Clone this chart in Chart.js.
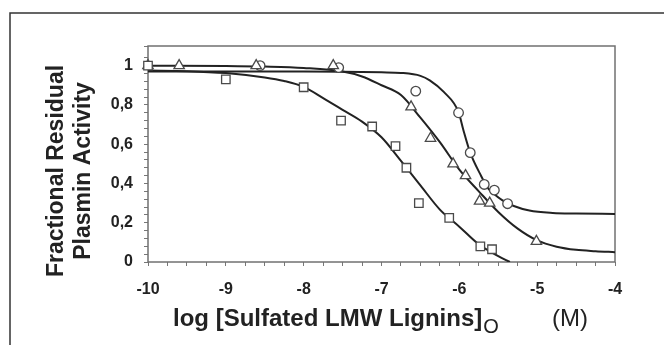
<!DOCTYPE html>
<html>
<head>
<meta charset="utf-8">
<script src="https://cdn.jsdelivr.net/npm/chart.js@4/dist/chart.umd.min.js"></script>
<style>
  html, body { margin: 0; padding: 0; background: #fff; }
  canvas { display: block; }
</style>
</head>
<body>
<canvas id="chart" width="664" height="345"></canvas>
<script>
// ---------------- DATA ----------------
// measured points (log M, fractional activity)
const squareX = [-10, -9, -8, -7.52, -7.12, -6.82, -6.68, -6.52, -6.13, -5.73, -5.58];
const squareY = [1.0, 0.93, 0.89, 0.72, 0.69, 0.59, 0.48, 0.30, 0.225, 0.08, 0.065];

const triangleX = [-10, -9.6, -8.61, -7.62, -6.62, -6.37, -6.08, -5.92, -5.74, -5.61, -5.01];
const triangleY = [1.0, 1.0, 1.0, 1.0, 0.79, 0.63, 0.50, 0.44, 0.31, 0.30, 0.105];

const circleX = [-8.56, -7.55, -6.56, -6.01, -5.86, -5.68, -5.55, -5.38];
const circleY = [1.0, 0.99, 0.87, 0.76, 0.557, 0.395, 0.366, 0.297];

// fitted curves
const squareFitX = [-10, -9.5, -9, -8.5, -8.25, -8, -7.75, -7.5, -7.25, -7, -6.75, -6.5, -6.25, -6, -5.75, -5.5, -5.35];
const squareFitY = [0.975, 0.972, 0.962, 0.94, 0.922, 0.892, 0.835, 0.775, 0.715, 0.635, 0.515, 0.39, 0.267, 0.18, 0.09, 0.03, 0.0];

const triangleFitX = [-10, -9, -8.5, -8, -7.5, -7.25, -7, -6.75, -6.5, -6.25, -6, -5.75, -5.5, -5.25, -5, -4.75, -4.5, -4.25, -4];
const triangleFitY = [1.0, 0.998, 0.995, 0.988, 0.97, 0.945, 0.90, 0.85, 0.735, 0.61, 0.47, 0.36, 0.255, 0.17, 0.11, 0.078, 0.062, 0.055, 0.05];

const circleFitX = [-10, -9, -8, -7.5, -7, -6.75, -6.5, -6.38, -6.2, -6.01, -5.95, -5.86, -5.73, -5.63, -5.55, -5.45, -5.3, -5.1, -4.8, -4.5, -4];
const circleFitY = [0.97, 0.97, 0.97, 0.969, 0.966, 0.963, 0.948, 0.925, 0.866, 0.763, 0.675, 0.557, 0.446, 0.375, 0.345, 0.315, 0.285, 0.262, 0.25, 0.247, 0.245];

// axis ranges
const xMin = -10, xMax = -4, xStep = 0.25;
const yMin = 0, yMax = 1.1, yStep = 0.04;

// ---------------- HELPERS ----------------
function pairs(xs, ys) {
  return xs.map((x, i) => ({ x: x, y: ys[i] }));
}

const FONT = "'Liberation Sans', Arial, sans-serif";
const INK = "#222";

function pointSet(xs, ys, style, r) {
  return {
    data: pairs(xs, ys),
    showLine: false,
    pointStyle: style,
    pointRadius: r,
    pointBackgroundColor: "#fff",
    pointBorderColor: "#4a4a4a",
    pointBorderWidth: 1.3,
    clip: false,
    order: 0
  };
}

function lineSet(xs, ys) {
  return {
    data: pairs(xs, ys),
    showLine: true,
    borderColor: INK,
    borderWidth: 2,
    pointRadius: 0,
    cubicInterpolationMode: "monotone",
    fill: false,
    order: 1
  };
}

// ---------------- FRAME + TITLES ----------------
const decor = {
  id: "decor",
  beforeDatasetsDraw(chart) {
    const c = chart.ctx, a = chart.chartArea;
    c.save();
    // outer panel border (top and left only visible)
    c.strokeStyle = "#333";
    c.lineWidth = 1.5;
    c.beginPath();
    c.moveTo(10, 350);
    c.lineTo(10, 13);
    c.lineTo(670, 13);
    c.stroke();
    // plot box
    c.strokeStyle = "#707070";
    c.lineWidth = 1.5;
    c.strokeRect(a.left, a.top, a.right - a.left, a.bottom - a.top);

    // y title, two rotated lines
    c.fillStyle = INK;
    c.textAlign = "center";
    c.textBaseline = "alphabetic";
    c.font = "bold 23px " + FONT;
    const yc = (a.top + a.bottom) / 2 + 17;
    c.save();
    c.translate(63, yc);
    c.rotate(-Math.PI / 2);
    c.fillText("Fractional Residual", 0, 0);
    c.restore();
    c.save();
    c.translate(90, yc);
    c.rotate(-Math.PI / 2);
    c.fillText("Plasmin Activity", 0, 0);
    c.restore();

    // x title with subscript
    c.textAlign = "left";
    c.font = "bold 24px " + FONT;
    const main = "log [Sulfated LMW Lignins]";
    c.fillText(main, 173, 326);
    const w = c.measureText(main).width;
    c.font = "20px " + FONT;
    c.fillText("O", 173 + w + 1, 333);
    c.textAlign = "center";
    c.font = "24px " + FONT;
    c.fillText("(M)", 570, 326);
    c.restore();
  }
};

// ---------------- CHART ----------------
const ctx = document.getElementById("chart").getContext("2d");

const chart = new Chart(ctx, {
  type: "scatter",
  data: {
    datasets: [
      pointSet(squareX, squareY, "rect", 6),
      pointSet(triangleX, triangleY, "triangle", 6),
      pointSet(circleX, circleY, "circle", 4.8),
      lineSet(squareFitX, squareFitY),
      lineSet(triangleFitX, triangleFitY),
      lineSet(circleFitX, circleFitY)
    ]
  },
  options: {
    responsive: false,
    animation: false,
    layout: { padding: { left: 0, top: 46, right: 49, bottom: 0 } },
    plugins: {
      legend: { display: false },
      tooltip: { enabled: false }
    },
    scales: {
      x: {
        type: "linear",
        min: xMin,
        max: xMax,
        afterFit(scale) { scale.height = 83; },
        border: { display: false },
        grid: { drawOnChartArea: false, drawTicks: true, tickLength: 4, color: "#777", lineWidth: 1 },
        ticks: {
          stepSize: xStep,
          autoSkip: false,
          maxRotation: 0,
          padding: 14,
          color: INK,
          font: { family: FONT, size: 16, weight: "bold" },
          callback(v) {
            return Math.abs(v - Math.round(v)) < 1e-6 ? String(Math.round(v)) : "";
          }
        }
      },
      y: {
        type: "linear",
        min: yMin,
        max: yMax,
        afterFit(scale) { scale.width = 148; },
        border: { display: false },
        grid: { drawOnChartArea: false, drawTicks: true, tickLength: 4, color: "#777", lineWidth: 1 },
        ticks: {
          stepSize: yStep,
          autoSkip: false,
          padding: 11,
          color: INK,
          font: { family: FONT, size: 16, weight: "bold" },
          callback(v) {
            const k = v * 5;
            if (Math.abs(k - Math.round(k)) > 1e-6) return "";
            const r = Math.round(k) / 5;
            if (r === 0) return "0";
            if (r === 1) return "1";
            return r.toFixed(1).replace(".", ",");
          }
        }
      }
    }
  },
  plugins: [decor]
});
</script>
</body>
</html>
